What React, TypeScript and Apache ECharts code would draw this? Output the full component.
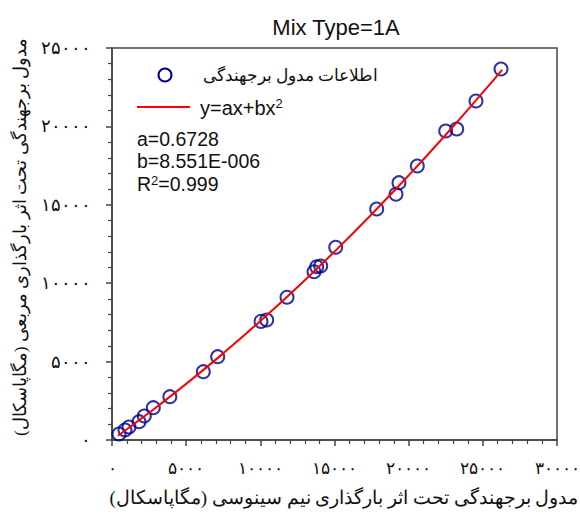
import React, { useEffect, useRef } from "react";
import * as echarts from "echarts";

const titleText = "Mix Type=1A";
const xAxisTitle = "مدول برجهندگی تحت اثر بارگذاری نیم سینوسی (مگاپاسکال)";
const yAxisTitle = "مدول برجهندگی تحت اثر بارگذاری مربعی (مگاپاسکال)";
const legendDataName = "اطلاعات مدول برجهندگی";
const legendFitName = "y=ax+bx";

const xTickValues = [0, 5000, 10000, 15000, 20000, 25000, 30000];
const xTickLabels = ["۰", "۵۰۰۰", "۱۰۰۰۰", "۱۵۰۰۰", "۲۰۰۰۰", "۲۵۰۰۰", "۳۰۰۰۰"];
const yTickValues = [0, 5000, 10000, 15000, 20000, 25000];
const yTickLabels = ["۰", "۵۰۰۰", "۱۰۰۰۰", "۱۵۰۰۰", "۲۰۰۰۰", "۲۵۰۰۰"];

const dataX = [472, 876, 1146, 1820, 2178, 2784, 3900, 6155, 7126, 10045, 10429, 11798, 13618, 13800, 14070, 15081, 17845, 19146, 19348, 20583, 22497, 23239, 24539, 26225];
const dataY = [383, 638, 829, 1167, 1531, 2060, 2762, 4356, 5313, 7565, 7653, 9101, 10733, 11052, 11097, 12290, 14732, 15670, 16410, 17475, 19707, 19834, 21620, 23661];

const fitX = [400, 2500, 5000, 7500, 10000, 12500, 15000, 17500, 20000, 22500, 25000, 26300];
const fitY = [270, 1735, 3578, 5527, 7583, 9746, 12016, 14393, 16876, 19467, 22164, 23610];

const statLines = ["a=0.6728", "b=8.551E-006"];
const r2Value = "=0.999";

export default function App() {
  const ref = useRef<HTMLDivElement>(null);
  useEffect(() => {
    if (!ref.current) return;
    const chart = echarts.init(ref.current, null, { renderer: "svg" });
    const axisColor = "#444";
    const sans = "Arial, 'Liberation Sans', sans-serif";
    const tickFont = "'Times New Roman', 'Liberation Serif', serif";
    const xMap: Record<number, string> = {};
    xTickValues.forEach((v, i) => (xMap[v] = xTickLabels[i]));
    const yMap: Record<number, string> = {};
    yTickValues.forEach((v, i) => (yMap[v] = yTickLabels[i]));

    chart.setOption({
      animation: false,
      backgroundColor: "#fff",
      title: {
        text: titleText,
        left: 331,
        top: 11,
        textAlign: "center",
        textStyle: { fontFamily: sans, fontSize: 22, fontWeight: "normal", color: "#111" },
      },
      grid: {
        left: 112,
        right: 23,
        top: 48,
        bottom: 81,
        containLabel: false,
        outerBoundsMode: "none",
        show: true,
        borderColor: axisColor,
        borderWidth: 1.5,
        backgroundColor: "transparent",
      },
      xAxis: {
        type: "value",
        min: 0,
        max: 30000,
        interval: 5000,
        axisLine: { show: true, onZero: false, lineStyle: { color: axisColor, width: 1.5 } },
        axisTick: { show: true, inside: false, length: 6, lineStyle: { color: axisColor, width: 1.5 } },
        minorTick: { show: true, splitNumber: 5, length: 4, lineStyle: { color: axisColor, width: 1.2 } },
        splitLine: { show: false },
        axisLabel: {
          margin: 20,
          fontFamily: tickFont,
          fontSize: 16.5,
          color: "#111",
          hideOverlap: false,
          formatter: (v: number) => (xMap[v] !== undefined ? xMap[v] : ""),
        },
      },
      yAxis: {
        type: "value",
        min: 0,
        max: 25000,
        interval: 5000,
        axisLine: { show: true, onZero: false, lineStyle: { color: axisColor, width: 1.5 } },
        axisTick: { show: true, inside: false, length: 6, lineStyle: { color: axisColor, width: 1.5 } },
        minorTick: { show: true, splitNumber: 5, length: 4, lineStyle: { color: axisColor, width: 1.2 } },
        splitLine: { show: false },
        axisLabel: {
          margin: 21,
          fontFamily: tickFont,
          fontSize: 17.5,
          color: "#111",
          formatter: (v: number) => (yMap[v] !== undefined ? yMap[v] : ""),
        },
      },
      series: [
        {
          type: "scatter",
          name: legendDataName,
          data: dataX.map((x, i) => [x, dataY[i]]),
          symbol: "circle",
          symbolSize: 13,
          itemStyle: { color: "rgba(0,0,0,0)", borderColor: "#000088", borderWidth: 2 },
          z: 2,
        },
        {
          type: "line",
          name: legendFitName,
          data: fitX.map((x, i) => [x, fitY[i]]),
          smooth: true,
          showSymbol: false,
          symbol: "none",
          lineStyle: { color: "#ff0000", width: 2 },
          z: 3,
        },
      ],
      graphic: [
        {
          type: "circle",
          shape: { cx: 165, cy: 75, r: 6.5 },
          style: { fill: "none", stroke: "#000088", lineWidth: 2 },
        },
        {
          type: "text",
          x: 378,
          y: 75,
          style: {
            text: legendDataName,
            align: "right",
            verticalAlign: "middle",
            fontFamily: "'Times New Roman', serif",
            fontSize: 17,
            fill: "#111",
          },
        },
        {
          type: "line",
          shape: { x1: 137, y1: 107, x2: 190, y2: 107 },
          style: { stroke: "#ff0000", lineWidth: 2 },
        },
        {
          type: "text",
          x: 200,
          y: 108,
          style: {
            text: legendFitName + "{sup|2}",
            verticalAlign: "middle",
            fontFamily: sans,
            fontSize: 20,
            fill: "#111",
            rich: { sup: { fontSize: 13, padding: [0, 0, 10, 0], fontFamily: sans, fill: "#111" } },
          },
        },
        {
          type: "text",
          x: 137,
          y: 139,
          style: { text: statLines[0], verticalAlign: "middle", fontFamily: sans, fontSize: 19.5, lineHeight: 20, fill: "#111" },
        },
        {
          type: "text",
          x: 137,
          y: 161,
          style: { text: statLines[1], verticalAlign: "middle", fontFamily: sans, fontSize: 19.5, lineHeight: 20, fill: "#111" },
        },
        {
          type: "text",
          x: 137,
          y: 184,
          style: {
            text: "R{sup|2}" + r2Value,
            verticalAlign: "middle",
            fontFamily: sans,
            fontSize: 19.5,
            lineHeight: 20,
            fill: "#111",
            rich: { sup: { fontSize: 13, lineHeight: 20, padding: [0, 0, 8, 0], fontFamily: sans, fill: "#111" } },
          },
        },
        {
          type: "text",
          x: 344,
          y: 497,
          style: {
            text: xAxisTitle,
            align: "center",
            verticalAlign: "middle",
            fontFamily: "'Times New Roman', serif",
            fontSize: 19,
            fill: "#111",
          },
        },
        {
          type: "text",
          x: 20,
          y: 237,
          rotation: Math.PI / 2,
          style: {
            text: yAxisTitle,
            align: "center",
            verticalAlign: "middle",
            fontFamily: "'Times New Roman', serif",
            fontSize: 17.5,
            fill: "#111",
          },
        },
      ],
    });
    return () => chart.dispose();
  }, []);
  return <div ref={ref} style={{ width: 580, height: 521, position: "absolute", left: 0, top: 0 }} />;
}
